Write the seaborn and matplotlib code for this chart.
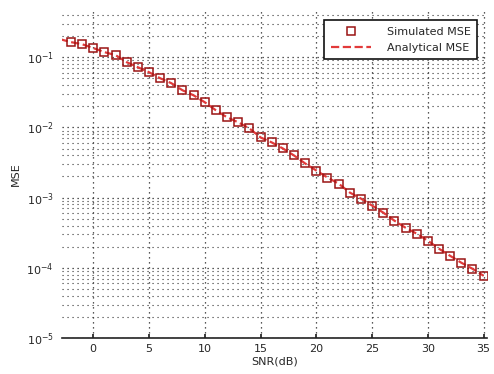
import numpy as np
import pandas as pd
import matplotlib
matplotlib.use("Agg")
import matplotlib.pyplot as plt
import seaborn as sns
from matplotlib.ticker import LogLocator, NullFormatter

# data
snr_sim = list(range(-2, 36))
mse_sim = [0.164, 0.153, 0.135, 0.118, 0.107, 0.0849, 0.0719, 0.0611, 0.0501, 0.0426,
           0.0338, 0.0286, 0.0228, 0.0175, 0.0139, 0.0118, 0.00968, 0.00719, 0.00611,
           0.00501, 0.00398, 0.00306, 0.00243, 0.00193, 0.00158, 0.00118, 0.000968,
           0.000769, 0.000611, 0.000469, 0.000372, 0.000306, 0.000243, 0.000187,
           0.000148, 0.000118, 0.0000968, 0.0000769]
snr_theory = list(range(-3, 36))
mse_theory = [0.181] + mse_sim
legend_labels = ["Simulated MSE", "Analytical MSE"]
x_ticks = [0, 5, 10, 15, 20, 25, 30, 35]
x_label = "SNR(dB)"
y_label = "MSE"

sim_df = pd.DataFrame({"snr": snr_sim, "mse": mse_sim})
th_df = pd.DataFrame({"snr": snr_theory, "mse": mse_theory})

sns.set_theme(style="white")
plt.rcParams['font.family'] = ['DejaVu Sans']

fig = plt.figure(figsize=(4.94, 3.74), dpi=100)
ax = fig.add_axes([62/494, 1-338/374, (487-62)/494, (338-10)/374])

sns.lineplot(data=th_df, x="snr", y="mse", ax=ax, color="#e23a3a", lw=1.6,
             linestyle="--", label=legend_labels[1], zorder=2)
sns.lineplot(data=sim_df, x="snr", y="mse", ax=ax, color="#a01515", marker="s",
             markersize=6, markerfacecolor="none", markeredgecolor="#9a1414",
             markeredgewidth=1.1, linestyle="none", label=legend_labels[0], zorder=3)

ax.set_yscale("log")
ax.set_xlim(-2.8, 35.3)
ax.set_ylim(1e-5, 0.47)
ax.set_xticks(x_ticks)
ax.yaxis.set_major_locator(LogLocator(base=10, numticks=10))
ax.yaxis.set_minor_locator(LogLocator(base=10, subs=np.arange(2, 10), numticks=10))
ax.yaxis.set_minor_formatter(NullFormatter())
ax.grid(True, which="major", axis="both", color="#222222", linestyle=(0, (1, 3)), linewidth=0.9)
ax.grid(True, which="minor", axis="y", color="#333333", linestyle=(0, (1, 3.5)), linewidth=0.8)

for s in ["top", "right", "left"]:
    ax.spines[s].set_visible(False)
ax.spines["bottom"].set_color("#222222")
ax.spines["bottom"].set_linewidth(1.2)
ax.tick_params(axis="x", which="major", direction="in", length=3, labelsize=8,
               bottom=True, color="#222222", pad=4)
ax.tick_params(axis="y", which="both", length=0, labelsize=8, pad=6)

ax.set_xlabel(x_label, fontsize=8, labelpad=2)
ax.set_ylabel(y_label, fontsize=8, labelpad=4)

handles, labels = ax.get_legend_handles_labels()
order = [labels.index(legend_labels[0]), labels.index(legend_labels[1])]
leg = ax.legend([handles[i] for i in order], [labels[i] for i in order],
                loc="upper right", bbox_to_anchor=(0.99, 0.985), fontsize=8,
                frameon=True, fancybox=False, framealpha=1, edgecolor="#111111",
                borderpad=0.6, handlelength=3.6, labelspacing=0.5, handletextpad=1.4)
leg.get_frame().set_linewidth(1.2)

fig.savefig("out.png", dpi=100)
